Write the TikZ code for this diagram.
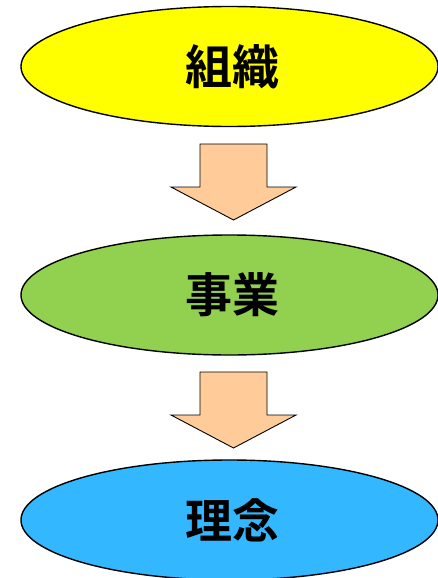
\documentclass[tikz,border=0pt]{standalone}
\usepackage{fontspec}
\newfontfamily\cjk{Noto Sans CJK JP}[BoldFont={Noto Sans CJK JP Bold}]
\usetikzlibrary{shapes.geometric}
\definecolor{ellyellow}{HTML}{FFFF00}
\definecolor{ellgreen}{HTML}{92D050}
\definecolor{ellblue}{HTML}{33B7FF}
\definecolor{arrowfill}{HTML}{FFCC99}
\tikzset{
  oval/.style={ellipse, draw=black, line width=1.4pt, minimum width=417pt, minimum height=120pt, inner sep=0pt},
  ovaltext/.style={font=\cjk\bfseries\fontsize{47pt}{50pt}\selectfont, inner sep=0pt},
  blockarrow/.style={draw=black, line width=0.9pt, fill=arrowfill, line join=miter}
}
\begin{document}
\begin{tikzpicture}[x=1pt,y=1pt]
\useasboundingbox (0,0) rectangle (438,-578);
\clip (0,0) rectangle (438,-578);
\node[oval, fill=ellyellow] (org) at (229.5,-66.5) {};
\node[oval, fill=ellgreen] (biz) at (229.5,-295) {};
\node[oval, fill=ellblue] (idea) at (229.5,-520) {};
\node[ovaltext] (orgtext) at ([xshift=2.5pt]org.center) {組織};
\node[ovaltext] (biztext) at ([xshift=2.5pt]biz.center) {事業};
\node[ovaltext] (ideatext) at ([xshift=2.5pt]idea.center) {理念};
\foreach \dy in {0,228}{
  \draw[blockarrow] (200,-144-\dy) -- (267,-144-\dy) -- (267,-187-\dy) -- (296,-187-\dy) -- (233.5,-220-\dy) -- (171,-187-\dy) -- (200,-187-\dy) -- cycle;
}
\end{tikzpicture}
\end{document}
